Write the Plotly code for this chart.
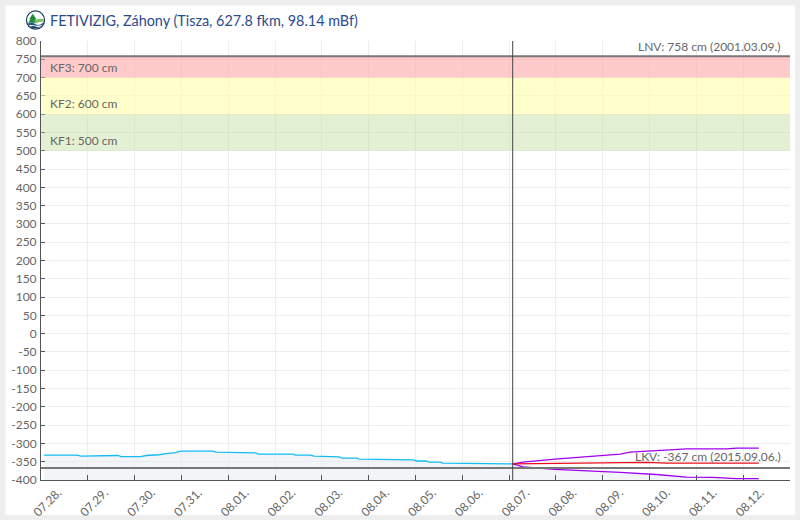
import base64
import plotly.graph_objects as go

title_text = "FETIVIZIG, Záhony (Tisza, 627.8 fkm, 98.14 mBf)"

obs_times = ["2024-07-28 01:30","2024-07-28 18:30","2024-07-28 20:30","2024-07-29 06:00","2024-07-29 08:00",
             "2024-07-29 15:30","2024-07-29 17:00","2024-07-30 03:00","2024-07-30 06:00","2024-07-30 09:30",
             "2024-07-30 12:30","2024-07-30 16:00","2024-07-30 21:00","2024-07-30 23:30","2024-07-31 16:00",
             "2024-07-31 18:00","2024-08-01 01:40","2024-08-01 04:00","2024-08-01 14:00","2024-08-01 15:30",
             "2024-08-02 09:00","2024-08-02 10:30","2024-08-02 18:00","2024-08-02 20:00","2024-08-03 03:00",
             "2024-08-03 04:30","2024-08-03 09:00","2024-08-03 10:30","2024-08-03 18:00","2024-08-03 19:00",
             "2024-08-04 10:00","2024-08-04 11:00","2024-08-04 12:00","2024-08-04 13:00","2024-08-04 23:00",
             "2024-08-05 00:30","2024-08-05 05:30","2024-08-05 07:00","2024-08-05 12:40","2024-08-05 14:00",
             "2024-08-06 12:40","2024-08-06 14:00","2024-08-07 01:50"]
obs_values = [-332,-332,-335,-335,-333,-333,-336,-336,-333,-333,-331,-328,-325,-321,-321,-324,-324,-326,-326,-329,
              -329,-332,-332,-335,-335,-337,-337,-340,-340,-343,-343,-345,-343,-345,-345,-348,-348,-351,-351,-354,
              -354,-356,-356]

upper_times = ["2024-08-07 01:50","2024-08-07 07:10","2024-08-07 23:30","2024-08-08 17:30","2024-08-09 09:00",
               "2024-08-09 14:00","2024-08-10 01:40","2024-08-10 19:00","2024-08-11 15:30","2024-08-11 20:40","2024-08-12 08:00"]
upper_values = [-356,-351,-343,-336,-329,-324,-320,-315,-315,-313,-313]

mid_times = ["2024-08-07 01:50","2024-08-08 21:00","2024-08-09 22:30","2024-08-10 09:00","2024-08-12 08:00"]
mid_values = [-356,-354,-352,-354,-354]

lower_times = ["2024-08-07 01:50","2024-08-07 07:10","2024-08-07 23:30","2024-08-08 19:00","2024-08-09 09:00",
               "2024-08-10 03:30","2024-08-10 19:00","2024-08-11 08:30","2024-08-11 20:40","2024-08-12 08:00"]
lower_values = [-356,-364,-371,-375,-379,-385,-392,-393,-396,-396]

tick_dates = ["2024-07-28","2024-07-29","2024-07-30","2024-07-31","2024-08-01","2024-08-02","2024-08-03","2024-08-04",
              "2024-08-05","2024-08-06","2024-08-07","2024-08-08","2024-08-09","2024-08-10","2024-08-11","2024-08-12","2024-08-13"]
tick_labels = ["07.28.","07.29.","07.30.","07.31.","08.01.","08.02.","08.03.","08.04.",
               "08.05.","08.06.","08.07.","08.08.","08.09.","08.10.","08.11.","08.12.",""]
y_ticks = [-400,-350,-300,-250,-200,-150,-100,-50,0,50,100,150,200,250,300,350,400,450,500,550,600,650,700,750,800]
y_labels = [str(v) for v in y_ticks]

FONT = "Lato"
FILL = "rgba(232,235,243,0.55)"
PW, PH = 750, 440

logo_svg = ('<svg xmlns="http://www.w3.org/2000/svg" viewBox="0 0 22 22">'
            '<circle cx="11" cy="11" r="10" fill="white" stroke="#1c3f66" stroke-width="1.4"/>'
            '<path d="M8 4 L12 10 L10.5 10 L13 14 L3 14 L5.5 10 L4 10 Z" fill="#1f8a3c"/>'
            '<path d="M10 11 Q15 9 20 10 L20.5 13 Q15 12 11 15 Z" fill="#7fbf6a"/>'
            '<path d="M2.5 15 Q7 13 11 15.5 T20 13.5 L19 16 Q15 18 11 17 T3.5 16.5 Z" fill="#1c5a8c"/>'
            '<path d="M5 18 Q9 17 12 18.5 T17 17.5 L15 19.5 Q11 20.5 7 19.5 Z" fill="#1c3f66"/>'
            '</svg>')
logo_uri = "data:image/svg+xml;base64," + base64.b64encode(logo_svg.encode()).decode()

fig = go.Figure()

def filled(times, values, fill=FILL):
    fig.add_trace(go.Scatter(x=times, y=[-400]*len(times), mode="lines", line=dict(width=0), hoverinfo="skip"))
    fig.add_trace(go.Scatter(x=times, y=values, mode="lines", line=dict(width=0), fill="tonexty",
                             fillcolor=fill, hoverinfo="skip"))

filled(obs_times, obs_values)
filled(lower_times, lower_values)
fig.add_trace(go.Scatter(x=obs_times, y=obs_values, mode="lines", line=dict(color="#13bdf2", width=1.3)))
fig.add_trace(go.Scatter(x=upper_times, y=upper_values, mode="lines", line=dict(color="#a100f2", width=1.3)))
fig.add_trace(go.Scatter(x=lower_times, y=lower_values, mode="lines", line=dict(color="#a100f2", width=1.3)))
fig.add_trace(go.Scatter(x=mid_times, y=mid_values, mode="lines", line=dict(color="#e8101c", width=1.3)))

shapes = [
    dict(type="rect", xref="paper", yref="paper", x0=-35.5/PW, x1=1+5/PW, y0=-35/PH, y1=1+35.5/PH,
         fillcolor="white", line_width=0, layer="below"),
]
for lo, hi, col in [(500, 600, "rgba(190,220,150,0.42)"), (600, 700, "rgba(255,255,170,0.6)"), (700, 758, "rgba(255,150,150,0.5)")]:
    shapes.append(dict(type="rect", xref="paper", yref="y", x0=0, x1=1, y0=lo, y1=hi, fillcolor=col, line_width=0))
for v in (758, -367):
    shapes.append(dict(type="line", xref="paper", yref="y", x0=0, x1=1, y0=v, y1=v, line=dict(color="#777777", width=2)))
shapes.append(dict(type="line", xref="x", yref="paper", x0="2024-08-07 01:50", x1="2024-08-07 01:50", y0=0, y1=1,
                   line=dict(color="#444444", width=1)))

def ann(x, y, text, xanchor):
    return dict(xref="paper", yref="y", x=x, y=y, text=text, showarrow=False, xanchor=xanchor, yanchor="middle",
                font=dict(family=FONT, size=12, color="#666666"))

annotations = [ann(7/PW, 728, "KF3: 700 cm", "left"), ann(7/PW, 628, "KF2: 600 cm", "left"),
               ann(7/PW, 528, "KF1: 500 cm", "left"),
               ann(743/PW, 784, "LNV: 758 cm (2001.03.09.)", "right"),
               ann(743/PW, -336, "LKV: -367 cm (2015.09.06.)", "right"),
               dict(xref="paper", yref="paper", x=7/PW, y=1+21/PH, text=title_text, showarrow=False,
                    xanchor="left", yanchor="middle", font=dict(family=FONT, size=14.4, color="#2b4c8c"))]

fig.update_layout(
    width=800, height=520, autosize=False, showlegend=False,
    margin=dict(l=40.5, r=9.5, t=40.5, b=39.5),
    paper_bgcolor="#eeeeee", plot_bgcolor="white",
    shapes=shapes, annotations=annotations,
    images=[dict(source=logo_uri, xref="paper", yref="paper", x=-15.5/PW, y=1+(40.5-9.5)/PH, sizex=20/PW, sizey=20/PH,
                 xanchor="left", yanchor="top", sizing="stretch", layer="above")],
    xaxis=dict(type="date", range=["2024-07-28 00:00", "2024-08-13 00:00"], tickmode="array", automargin=False,
               tickvals=tick_dates, ticktext=tick_labels, tickangle=-45, ticklabelshift=17,
               ticks="inside", ticklen=5, tickcolor="#555555", showgrid=True, gridcolor="#eeeeee",
               showline=True, linecolor="#555555", linewidth=1, zeroline=False,
               tickfont=dict(family=FONT, size=12, color="#666666")),
    yaxis=dict(range=[-400, 800], tickmode="array", tickvals=y_ticks, ticktext=y_labels, automargin=False,
               ticks="inside", ticklen=4, tickcolor="#555555", ticklabelstandoff=1,
               showgrid=True, gridcolor="#eeeeee", showline=True, linecolor="#555555", linewidth=1, zeroline=False,
               tickfont=dict(family=FONT, size=12, color="#666666")),
)
fig.write_html("out.html", config={"displayModeBar": False},
               post_script="document.body.style.margin='0';document.body.style.background='#eeeeee';")
